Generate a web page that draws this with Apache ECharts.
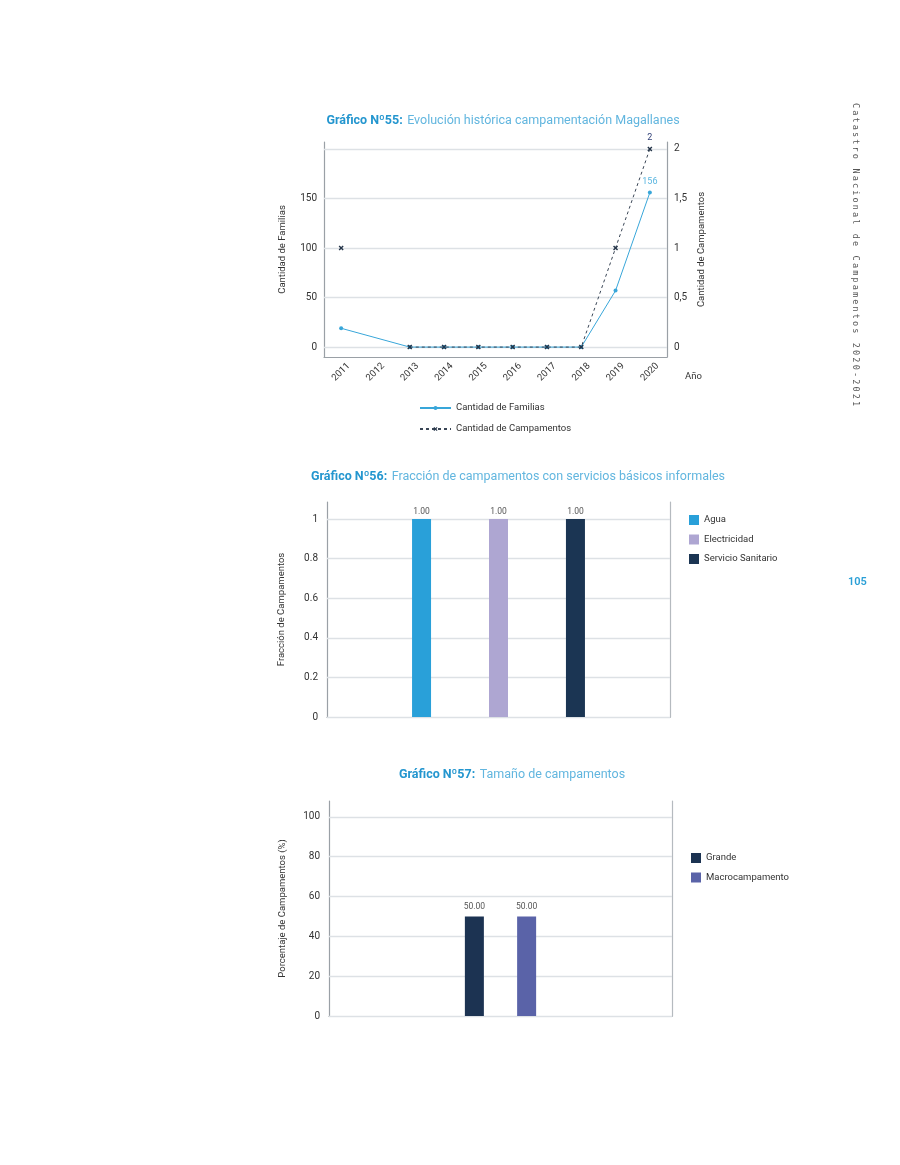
<!DOCTYPE html>
<html>
<head>
<meta charset="utf-8">
<style>
  html, body { margin: 0; padding: 0; background: #fff; }
  #main { width: 900px; height: 1165px; }
  .side {
    position: absolute; left: 851px; top: 103px;
    writing-mode: vertical-rl;
    font-family: 'DejaVu Sans Mono', monospace; font-size: 8.5px;
    letter-spacing: 2.15px; color: #555;
  }
  .page {
    position: absolute; left: 848px; top: 575px;
    font-family: Roboto, sans-serif; font-size: 11px; font-weight: 600; color: #2a9fd6;
  }
</style>
</head>
<body>
<div id="main"></div>
<div class="side">Catastro Nacional de Campamentos 2020-2021</div>
<div class="page">105</div>
<script src="https://cdn.jsdelivr.net/npm/echarts@6/dist/echarts.min.js"></script>
<script>
  // chart 55
  const years = ['2011', '2012', '2013', '2014', '2015', '2016', '2017', '2018', '2019', '2020'];
  const familias = [19, null, 0, 0, 0, 0, 0, 0, 57, 156];
  const campamentos = [1, null, 0, 0, 0, 0, 0, 0, 1, 2];
  const ticksFamilias = [0, 50, 100, 150];
  const gridFamilias = [0, 50, 100, 150, 200];
  const ticksCampamentos = [0, 0.5, 1, 1.5, 2];

  // chart 56
  const servicios = ['Agua', 'Electricidad', 'Servicio Sanitario'];
  const fraccion = [1, 1, 1];
  const ticksFraccion = [0, 0.2, 0.4, 0.6, 0.8, 1];

  // chart 57
  const tamanos = ['Grande', 'Macrocampamento'];
  const porcentaje = [50, 50];
  const ticksPorcentaje = [0, 20, 40, 60, 80, 100];

  const font = 'Roboto, sans-serif';
  const axisGray = '#9aa0a6';
  const gridGray = '#dde1e5';
  const colServicios = ['#29a0d9', '#aea6d2', '#1b3553'];
  const colTamanos = ['#1c3352', '#5a63a8'];

  var chartDom = document.getElementById('main');
  var myChart = echarts.init(chartDom, null, { renderer: 'canvas' });

  function titleOf(num, rest, x, y) {
    return {
      text: '{b|Gráfico Nº' + num + ':} {r|' + rest + '}',
      left: x, top: y, textAlign: 'center',
      textStyle: {
        fontWeight: 'normal',
        rich: {
          b: { fontFamily: font, fontSize: 12.5, fontWeight: 'bold', color: '#2496cf' },
          r: { fontFamily: font, fontSize: 12.5, fontWeight: 'normal', color: '#62b6df' },
        },
      },
    };
  }

  function onlyTicks(list, fmt) {
    return function (v) {
      return list.some((t) => Math.abs(t - v) < 1e-9) ? (fmt ? fmt(v) : String(v)) : '';
    };
  }

  function gridLines(list) {
    return {
      silent: true, symbol: 'none', z: 1, animation: false,
      label: { show: false },
      lineStyle: { color: gridGray, type: 'solid', width: 1.3 },
      data: list.map((v) => ({ yAxis: v })),
    };
  }

  function lastLabel(arr, color) {
    return arr.map((v, i) =>
      i === arr.length - 1
        ? { value: v, label: { show: true, position: 'top', distance: 4, color: color, fontSize: 9, fontFamily: font } }
        : v,
    );
  }

  const yName = { fontFamily: font, fontSize: 9.5, color: '#333' };
  const tickLabel = { fontFamily: font, fontSize: 10, color: '#333' };
  const legendText = { fontFamily: font, fontSize: 9.5, color: '#333' };

  var option = {
    animation: false,
    textStyle: { fontFamily: font },
    title: [
      titleOf('55', 'Evolución histórica campamentación Magallanes', 498, 107),
      titleOf('56', 'Fracción de campamentos con servicios básicos informales', 513, 463),
      titleOf('57', 'Tamaño de campamentos', 507, 761),
    ],
    legend: [
      {
        data: ['Cantidad de Familias', 'Cantidad de Campamentos'],
        orient: 'vertical', left: 414, top: 398, itemWidth: 31, itemHeight: 5, itemGap: 11,
        textStyle: legendText,
      },
      {
        data: servicios,
        orient: 'vertical', left: 684, top: 510, itemWidth: 10, itemHeight: 10, itemGap: 9.5, icon: 'rect',
        textStyle: legendText,
      },
      {
        data: tamanos,
        orient: 'vertical', left: 686, top: 848, itemWidth: 10, itemHeight: 10, itemGap: 9.5, icon: 'rect',
        textStyle: legendText,
      },
    ],
    grid: [
      { left: 324, right: 233, top: 142, height: 215, outerBoundsMode: 'none' },
      { left: 327, right: 230, top: 502, height: 215, outerBoundsMode: 'none' },
      { left: 329, right: 228, top: 801, height: 215, outerBoundsMode: 'none' },
    ],
    xAxis: [
      {
        type: 'category', gridIndex: 0, data: years, boundaryGap: true,
        axisLine: { onZero: false, lineStyle: { color: axisGray, width: 1.2 } },
        axisTick: { show: false },
        axisLabel: { rotate: 45, align: 'center', verticalAlign: 'middle', margin: 15, interval: 0, fontFamily: font, fontSize: 9.5, color: '#333' },
        name: 'Año', nameLocation: 'end', nameGap: 18,
        nameTextStyle: { fontFamily: font, fontSize: 9.5, color: '#333', align: 'left', verticalAlign: 'top', padding: [15, 0, 0, 0] },
      },
      {
        type: 'category', gridIndex: 1, data: [''],
        axisLine: { lineStyle: { color: axisGray, width: 1.2 } },
        axisTick: { show: false }, axisLabel: { show: false },
      },
      {
        type: 'category', gridIndex: 2, data: [''],
        axisLine: { lineStyle: { color: axisGray, width: 1.2 } },
        axisTick: { show: false }, axisLabel: { show: false },
      },
    ],
    yAxis: [
      {
        type: 'value', gridIndex: 0, min: -10, max: 207, position: 'left',
        axisLine: { show: true, lineStyle: { color: axisGray, width: 1.2 } },
        axisTick: { show: false }, splitLine: { show: false },
        axisLabel: Object.assign({ customValues: ticksFamilias, formatter: onlyTicks(ticksFamilias), margin: 7 }, tickLabel),
        name: 'Cantidad de Familias', nameLocation: 'middle', nameGap: 36, nameTextStyle: yName,
      },
      {
        type: 'value', gridIndex: 0, min: -0.1, max: 2.07, position: 'right',
        axisLine: { show: true, lineStyle: { color: axisGray, width: 1.2 } },
        axisTick: { show: false }, splitLine: { show: false },
        axisLabel: Object.assign({
          customValues: ticksCampamentos, margin: 7,
          formatter: onlyTicks(ticksCampamentos, (v) => String(v).replace('.', ',')),
        }, tickLabel),
        name: 'Cantidad de Campamentos', nameLocation: 'middle', nameGap: 30, nameTextStyle: yName,
      },
      {
        type: 'value', gridIndex: 1, min: 0, max: 1.086, position: 'left',
        axisLine: { show: true, lineStyle: { color: axisGray, width: 1.2 } },
        axisTick: { show: false }, splitLine: { show: false },
        axisLabel: Object.assign({ customValues: ticksFraccion, formatter: onlyTicks(ticksFraccion), margin: 9 }, tickLabel),
        name: 'Fracción de Campamentos', nameLocation: 'middle', nameGap: 40, nameTextStyle: yName,
      },
      {
        type: 'value', gridIndex: 1, min: 0, max: 1.086, position: 'right',
        axisLine: { show: true, lineStyle: { color: '#b5babf', width: 1.2 } },
        axisTick: { show: false }, splitLine: { show: false }, axisLabel: { show: false },
      },
      {
        type: 'value', gridIndex: 2, min: 0, max: 108, position: 'left',
        axisLine: { show: true, lineStyle: { color: axisGray, width: 1.2 } },
        axisTick: { show: false }, splitLine: { show: false },
        axisLabel: Object.assign({ customValues: ticksPorcentaje, formatter: onlyTicks(ticksPorcentaje), margin: 9 }, tickLabel),
        name: 'Porcentaje de Campamentos (%)', nameLocation: 'middle', nameGap: 41, nameTextStyle: yName,
      },
      {
        type: 'value', gridIndex: 2, min: 0, max: 108, position: 'right',
        axisLine: { show: true, lineStyle: { color: '#b5babf', width: 1.2 } },
        axisTick: { show: false }, splitLine: { show: false }, axisLabel: { show: false },
      },
    ],
    series: [
      {
        name: 'Cantidad de Familias', type: 'line', xAxisIndex: 0, yAxisIndex: 0,
        data: lastLabel(familias, '#5ab6e0'), connectNulls: true,
        symbol: 'circle', symbolSize: 4, z: 3,
        itemStyle: { color: '#38a6d9' }, lineStyle: { color: '#38a6d9', width: 1 },
        markLine: gridLines(gridFamilias),
      },
      {
        name: 'Cantidad de Campamentos', type: 'line', xAxisIndex: 0, yAxisIndex: 1,
        data: lastLabel(campamentos, '#34437a'), connectNulls: false,
        symbol: 'path://M0,0.2L0.2,0L0.5,0.3L0.8,0L1,0.2L0.7,0.5L1,0.8L0.8,1L0.5,0.7L0.2,1L0,0.8L0.3,0.5Z',
        symbolSize: 5, z: 4,
        itemStyle: { color: '#26364a' }, lineStyle: { color: '#3a4656', width: 1, type: [3, 3] },
      },
    ]
      .concat(servicios.map((name, i) => ({
        name: name, type: 'bar', xAxisIndex: 1, yAxisIndex: 2,
        data: [fraccion[i]], barWidth: 19, barGap: '305%',
        itemStyle: { color: colServicios[i] },
        label: { show: true, position: 'top', distance: 3, fontFamily: font, fontSize: 8.5, color: '#555', formatter: (p) => p.value.toFixed(2) },
        markLine: i === 0 ? gridLines(ticksFraccion) : undefined,
      })))
      .concat(tamanos.map((name, i) => ({
        name: name, type: 'bar', xAxisIndex: 2, yAxisIndex: 4,
        data: [porcentaje[i]], barWidth: 19, barGap: '175%',
        itemStyle: { color: colTamanos[i] },
        label: { show: true, position: 'top', distance: 5, fontFamily: font, fontSize: 8.5, color: '#555', formatter: (p) => p.value.toFixed(2) },
        markLine: i === 0 ? gridLines(ticksPorcentaje) : undefined,
      }))),
  };

  option && myChart.setOption(option);

  window.onresize = function () {
    myChart.resize();
  };
</script>
</body>
</html>
